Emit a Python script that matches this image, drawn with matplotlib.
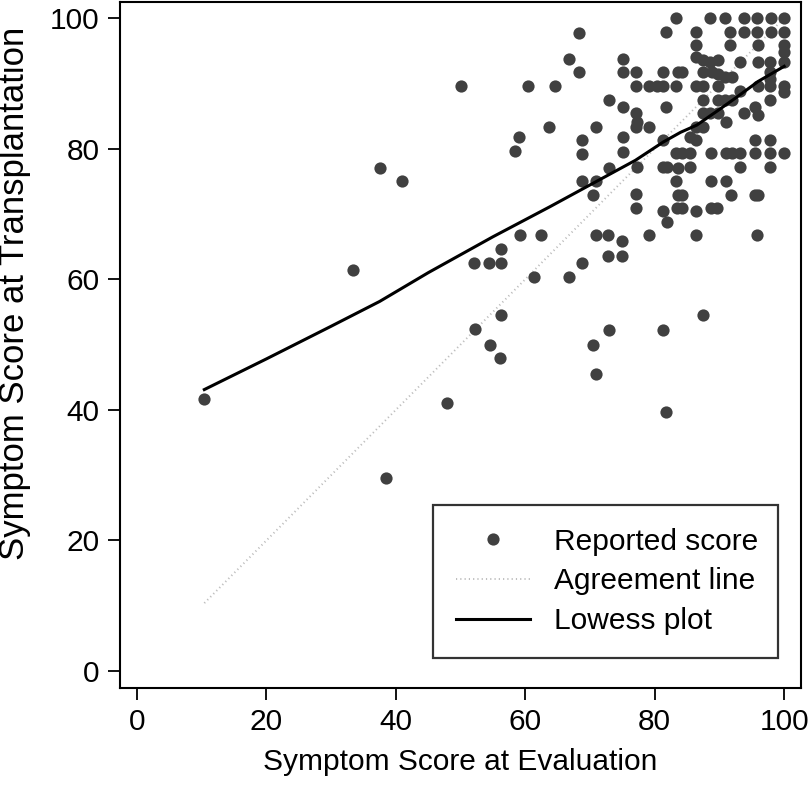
import numpy as np
import matplotlib
matplotlib.use("Agg")
import matplotlib.pyplot as plt

plt.rcParams['font.family'] = ['Liberation Sans', 'DejaVu Sans']

# reported scores: evaluation (x) vs transplantation (y)
eval_score = [
    10.4, 33.3, 37.5, 38.5, 40.9, 47.9, 50.0, 60.4, 64.6, 63.7,
    59.0, 58.4, 59.2, 62.5, 56.3, 52.1, 54.4, 56.3, 61.4, 56.3,
    52.2, 54.6, 56.1, 70.9, 72.8, 75.0, 79.1, 72.8, 75.0, 68.8,
    66.8, 73.0, 81.3, 70.5, 70.9, 81.8, 86.4, 95.8, 87.5, 77.1,
    81.3, 83.5, 84.2, 86.4, 88.7, 89.6, 81.9,
    83.3, 68.3, 81.8, 66.8, 75.1, 68.3, 75.1, 77.1, 81.3, 83.6,
    77.1, 79.1, 80.4, 81.3, 83.3, 73.0, 75.1, 81.8, 77.1, 77.3,
    77.1, 79.1, 70.9, 68.8, 75.1, 81.3, 68.8, 75.1, 83.3, 73.0,
    77.3, 81.3, 81.9, 83.6, 68.8, 70.9, 83.3, 70.5, 77.1, 83.6,
    88.5, 90.9, 93.8, 95.8, 97.9, 100.0,
    86.4, 91.7, 93.8, 95.8, 97.9, 100.0,
    86.4, 91.7, 95.9, 100.0, 100.0,
    86.4, 87.5, 88.6, 89.7, 93.2, 95.9, 97.8, 100.0,
    84.2, 87.5, 88.8, 89.8, 90.9, 91.9, 97.8, 97.8,
    86.4, 87.5, 89.7, 95.9, 97.8, 100.0, 100.0, 93.2,
    87.5, 89.7, 90.9, 91.9, 97.8,
    87.5, 88.6, 89.7, 93.8, 95.5, 95.9,
    91.0, 86.4, 87.5,
    85.4, 86.4, 95.5, 97.8,
    84.2, 85.4, 88.7, 91.0, 91.9, 93.2, 95.5, 97.8, 100.0,
    85.4, 93.2, 97.8,
    88.7, 91.0,
    84.2, 91.8, 95.5, 95.9,
]
trans_score = [
    41.7, 61.4, 77.1, 29.5, 75.0, 41.0, 89.6, 89.6, 89.6, 83.3,
    81.8, 79.6, 66.7, 66.7, 64.6, 62.5, 62.5, 62.5, 60.4, 54.5,
    52.3, 50.0, 48.0, 66.7, 66.7, 65.9, 66.7, 63.6, 63.6, 62.5,
    60.4, 52.2, 52.2, 50.0, 45.5, 39.7, 66.7, 66.7, 54.5, 70.9,
    70.4, 70.9, 70.9, 70.4, 70.9, 70.9, 68.8,
    100.0, 97.7, 97.9, 93.7, 93.7, 91.7, 91.7, 91.7, 91.7, 91.7,
    89.6, 89.6, 89.6, 89.6, 89.6, 87.4, 86.4, 86.4, 85.4, 84.1,
    83.3, 83.3, 83.3, 81.3, 81.8, 81.3, 79.2, 79.5, 79.3, 77.0,
    77.2, 77.2, 77.2, 77.0, 75.0, 75.0, 75.0, 72.9, 73.0, 72.9,
    100.0, 100.0, 100.0, 100.0, 100.0, 100.0,
    97.9, 97.9, 97.9, 97.9, 97.9, 97.9,
    95.9, 95.9, 95.9, 95.9, 94.8,
    94.0, 93.6, 93.3, 93.6, 93.2, 93.2, 93.2, 93.2,
    91.8, 91.8, 91.8, 91.5, 90.9, 90.9, 91.8, 90.7,
    89.6, 89.6, 89.6, 89.6, 89.6, 89.6, 88.6, 88.8,
    87.5, 87.5, 87.5, 87.5, 87.5,
    85.4, 85.4, 85.4, 85.4, 86.3, 85.1,
    84.1, 83.3, 83.3,
    81.8, 81.3, 81.3, 81.3,
    79.3, 79.3, 79.3, 79.3, 79.3, 79.3, 79.3, 79.3, 79.3,
    77.2, 77.2, 77.2,
    75.0, 75.0,
    72.9, 72.9, 72.9, 72.9,
]

# agreement line and lowess smooth
agree_x = [10.4, 100]
agree_y = [10.4, 100]
lowess_x = [10.4, 20, 30, 37.5, 45, 55, 63.8, 70.3, 77, 81.3, 84, 86.5, 90, 92.7, 96, 100]
lowess_y = [43.1, 47.8, 52.8, 56.6, 61.0, 66.5, 71.1, 74.6, 78.2, 81.0, 82.5, 83.6, 86.0, 87.9, 90.3, 92.6]

ticks = [0, 20, 40, 60, 80, 100]
fs = 21.5

fig = plt.figure(figsize=(8.1, 7.87), dpi=100)
ax = fig.add_axes([120 / 810, 99 / 787, 681 / 810, 686 / 787])

ax.plot(eval_score, trans_score, 'o', color='#404040', markersize=8.8,
        markeredgewidth=0, label='Reported score', zorder=2)
ax.plot(agree_x, agree_y, linestyle=(0, (0.6, 1.6)), color='#bdbdbd',
        linewidth=1.4, label='Agreement line', zorder=1)
ax.plot(lowess_x, lowess_y, color='black', linewidth=2.2,
        label='Lowess plot', zorder=3)

ax.set_xlim(-2.63, 102.6)
ax.set_ylim(-2.6, 102.45)
ax.set_xticks(ticks)
ax.set_yticks(ticks)
ax.tick_params(direction='out', length=8.5, width=1.3, labelsize=fs, pad=6)
for s in ax.spines.values():
    s.set_linewidth(1.5)

ax.set_xlabel('Symptom Score at Evaluation', fontsize=fs)
ax.set_ylabel('Symptom Score at Transplantation', fontsize=25)
ax.xaxis.set_label_coords(0.5, -0.088)
ax.yaxis.set_label_coords(-0.13, 0.575)

leg = ax.legend(loc='lower left', bbox_to_anchor=(0.46, 0.044, 0.506, 0.224),
                mode='expand', fontsize=fs, frameon=True, fancybox=False,
                handlelength=2.5, handletextpad=0.8, borderpad=0.75,
                labelspacing=0.4, borderaxespad=0)
leg.get_frame().set_edgecolor('black')
leg.get_frame().set_linewidth(1.6)

fig.savefig('out.png', dpi=100)
